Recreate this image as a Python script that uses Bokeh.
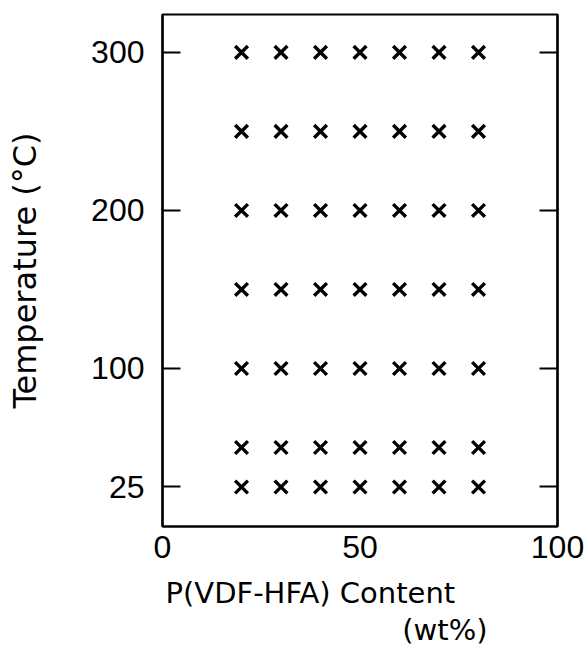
from bokeh.plotting import figure
from bokeh.models import FixedTicker, LinearAxis, Title, Range1d, ColumnDataSource
from bokeh.embed import file_html
from bokeh.resources import INLINE

# Data
content_wt = [20, 30, 40, 50, 60, 70, 80]          # P(VDF-HFA) content, wt%
temperatures = [25, 50, 100, 150, 200, 250, 300]    # temperature, deg C
x_ticks = [0, 50, 100]
y_ticks = [25, 100, 200, 300]

xs = [c for t in temperatures for c in content_wt]
ys = [t for t in temperatures for c in content_wt]
src = ColumnDataSource(dict(x=xs, y=ys))

FONT = "Liberation Sans"
LFONT = "DejaVu Sans"

p = figure(width=585, height=651, output_backend="svg", toolbar_location=None,
           x_range=Range1d(0, 100), y_range=Range1d(0, 324),
           min_border_left=162, min_border_right=28, min_border_top=14, min_border_bottom=125)

p.scatter("x", "y", source=src, marker="x", size=18, line_width=3.4, line_color="black")

p.grid.visible = False
p.outline_line_color = "black"
p.outline_line_width = 2.2
p.background_fill_color = "white"
p.border_fill_color = "white"

xa = p.xaxis[0]
xa.ticker = FixedTicker(ticks=x_ticks)
xa.major_tick_in = 0
xa.major_tick_out = 0
xa.minor_tick_in = 0
xa.minor_tick_out = 0
xa.axis_line_width = 2.2
xa.major_label_standoff = 9
xa.major_label_text_font = FONT
xa.major_label_text_font_size = "32px"
xa.major_label_text_color = "black"
xa.axis_label = " "
xa.axis_label_text_font_size = "6px"
xa.axis_label_standoff = 0

ya = p.yaxis[0]
ya.ticker = FixedTicker(ticks=y_ticks)
ya.major_tick_in = 18
ya.major_tick_out = 0
ya.minor_tick_in = 0
ya.minor_tick_out = 0
ya.major_tick_line_width = 2.2
ya.axis_line_width = 2.2
ya.major_label_standoff = 18
ya.major_label_text_font = FONT
ya.major_label_text_font_size = "32px"
ya.major_label_text_color = "black"
ya.axis_label = "Temperature (°C)"
ya.axis_label_text_font = LFONT
ya.axis_label_text_font_size = "32px"
ya.axis_label_text_font_style = "normal"
ya.axis_label_text_color = "black"
ya.axis_label_standoff = 44

ra = LinearAxis(ticker=FixedTicker(ticks=y_ticks))
ra.major_tick_in = 18
ra.major_tick_out = 0
ra.minor_tick_in = 0
ra.minor_tick_out = 0
ra.major_tick_line_width = 2.2
ra.axis_line_width = 2.2
ra.major_label_text_font_size = "0px"
ra.major_label_text_alpha = 0
p.add_layout(ra, "right")

t1 = Title(text="P(VDF-HFA) Content", align="left", offset=3,
           text_font=LFONT, text_font_size="29px", text_font_style="normal",
           text_color="black", standoff=8)
t2 = Title(text="(wt%)", align="right", offset=70,
           text_font=LFONT, text_font_size="29px", text_font_style="normal",
           text_color="black", standoff=-6)
p.add_layout(t1, "below")
p.add_layout(t2, "below")

open("out.html", "w").write(file_html(p, INLINE))
